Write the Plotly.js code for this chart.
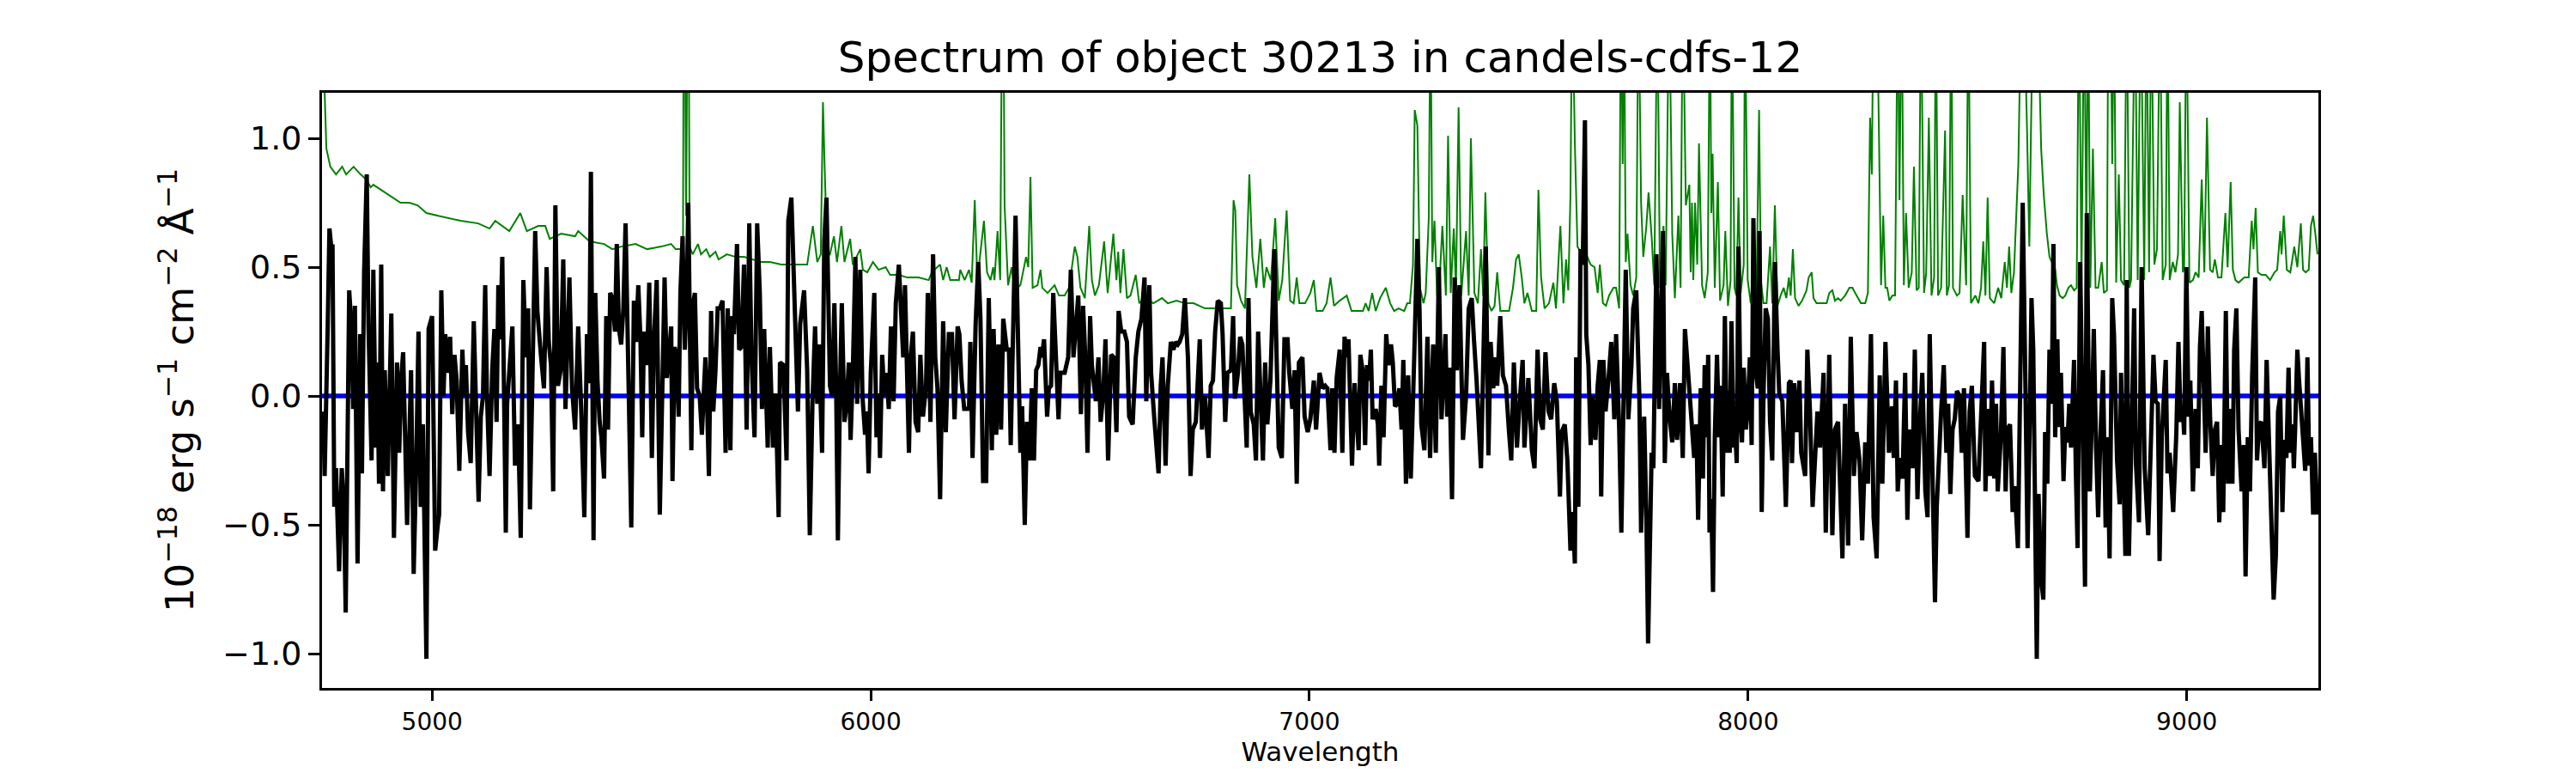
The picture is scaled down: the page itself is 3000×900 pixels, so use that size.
<!DOCTYPE html>
<html>
<head>
<meta charset="utf-8">
<script src="https://cdn.plot.ly/plotly-3.0.1.min.js"></script>
<style>html,body{margin:0;padding:0;background:#fff;}</style>
</head>
<body>
<div id="myDiv" style="width:3000px;height:900px;"></div>
<script>
// observed flux, [wavelength, flux]
var spectrum = [
[4752,-0.06],[4755,-0.31],[4762,0.27],[4766,0.65],[4770,0.58],[4773,0.58],[4777,-0.43],[4781,-0.28],[4788,-0.68],[4794,-0.28],[4799,-0.43],[4803,-0.84],[4811,0.41],[4816,0.27],[4820,-0.05],[4824,0.35],[4830,-0.65],[4836,0.24],[4840,-0.30],[4845,0.48],[4851,0.86],[4855,0.27],[4862,-0.25],[4866,0.49],[4872,-0.20],[4875,0.13],[4879,-0.34],[4884,0.51],[4888,-0.37],[4892,0.10],[4899,-0.31],[4907,0.32],[4913,-0.55],[4920,0.13],[4925,-0.22],[4930,0.08],[4934,0.17],[4938,-0.10],[4943,-0.50],[4952,0.10],[4958,-0.69],[4964,-0.25],[4969,0.25],[4974,-0.43],[4979,-0.11],[4987,-1.02],[4992,0.26],[5000,0.31],[5007,-0.60],[5013,-0.50],[5016,-0.46],[5021,0.41],[5026,0.00],[5030,0.24],[5036,0.09],[5041,0.23],[5046,-0.07],[5051,0.16],[5056,0.06],[5062,-0.29],[5069,0.18],[5073,0.00],[5077,0.12],[5082,-0.14],[5088,-0.26],[5095,0.29],[5101,-0.10],[5106,-0.41],[5111,-0.08],[5116,0.00],[5121,0.43],[5125,0.01],[5131,-0.31],[5137,0.10],[5142,0.26],[5147,-0.10],[5151,0.43],[5155,0.22],[5160,0.54],[5163,0.15],[5168,-0.53],[5171,-0.03],[5178,0.13],[5183,0.27],[5189,-0.27],[5196,-0.11],[5202,-0.55],[5208,0.45],[5214,0.15],[5219,0.34],[5223,-0.44],[5230,0.15],[5235,0.64],[5240,0.33],[5243,0.28],[5248,0.16],[5255,0.03],[5261,0.50],[5266,0.21],[5271,0.12],[5276,-0.37],[5281,0.74],[5287,0.04],[5293,0.10],[5299,0.53],[5304,-0.05],[5313,0.46],[5319,0.03],[5326,-0.13],[5333,0.27],[5340,-0.06],[5347,-0.47],[5353,0.24],[5358,0.05],[5362,0.87],[5368,-0.56],[5372,0.40],[5377,0.06],[5382,-0.10],[5386,-0.16],[5392,-0.32],[5397,0.31],[5401,-0.13],[5406,0.40],[5411,0.38],[5417,0.25],[5421,0.59],[5426,0.26],[5431,0.20],[5436,0.34],[5441,0.67],[5447,0.19],[5454,-0.51],[5460,0.37],[5465,0.21],[5470,0.43],[5475,0.22],[5479,-0.16],[5483,0.25],[5490,0.12],[5495,0.44],[5501,-0.24],[5506,0.23],[5512,0.45],[5519,-0.46],
[5530,0.46],[5535,0.07],[5540,0.16],[5545,0.27],[5548,-0.33],[5553,0.19],[5558,0.15],[5562,-0.08],[5566,0.40],[5571,0.62],[5576,0.18],[5581,0.42],[5584,0.75],[5591,-0.21],[5595,0.36],[5599,0.40],[5604,0.03],[5610,0.00],[5615,-0.15],[5620,0.00],[5623,0.15],[5626,0.03],[5631,-0.31],[5636,0.33],[5641,-0.06],[5646,0.10],[5651,0.34],[5656,0.34],[5662,0.37],[5669,-0.22],[5674,0.34],[5680,-0.21],[5684,0.31],[5688,0.24],[5695,0.59],[5700,0.18],[5705,0.19],[5711,0.51],[5717,-0.13],[5723,0.67],[5728,0.16],[5735,-0.16],[5741,0.67],[5747,0.40],[5752,-0.05],[5757,0.26],[5765,-0.20],[5770,0.19],[5777,-0.20],[5783,0.01],[5790,-0.47],[5793,0.13],[5801,0.12],[5808,-0.25],[5812,0.68],[5819,0.77],[5824,0.45],[5829,0.13],[5834,-0.06],[5839,0.28],[5843,0.33],[5848,0.41],[5855,0.10],[5861,-0.54],[5867,-0.03],[5873,0.27],[5878,-0.03],[5882,0.20],[5889,-0.22],[5894,0.60],[5899,0.77],[5904,0.30],[5907,0.04],[5912,0.00],[5917,0.36],[5921,0.04],[5925,-0.56],[5930,0.04],[5934,0.36],[5940,-0.10],[5945,-0.03],[5950,0.13],[5954,-0.17],[5959,0.09],[5965,0.54],[5969,-0.03],[5976,0.49],[5981,0.00],[5987,-0.15],[5991,-0.06],[5995,-0.30],[6000,0.09],[6008,0.40],[6013,-0.16],[6018,0.01],[6021,-0.24],[6026,0.16],[6031,0.00],[6036,0.09],[6041,-0.05],[6046,0.27],[6052,-0.02],[6057,0.36],[6064,0.51],[6069,0.28],[6074,0.15],[6078,0.43],[6082,0.15],[6087,-0.22],[6091,0.15],[6096,0.25],[6102,-0.10],[6108,-0.14],[6113,0.16],[6119,-0.08],[6126,0.04],[6130,0.40],[6136,-0.10],[6142,0.55],[6147,0.15],[6152,0.03],[6158,-0.40],[6165,0.29],[6171,-0.14],[6178,0.24],[6185,0.24],[6191,-0.09],[6198,0.27],[6202,0.24],[6207,0.06],[6213,-0.05],[6217,-0.05],[6224,-0.05],[6227,0.21],[6232,-0.24],[6239,0.28],[6245,0.52],[6250,0.30],[6256,-0.33],[6263,-0.33],[6269,0.38],[6276,-0.21],[6280,0.26],[6286,-0.15],[6291,0.20],[6297,-0.13],[6302,0.30],
[6310,0.18],[6315,0.18],[6319,-0.19],[6325,0.27],[6330,0.70],[6334,0.36],[6341,-0.22],[6345,-0.04],[6351,-0.50],[6356,-0.10],[6362,-0.25],[6367,0.03],[6372,-0.25],[6377,0.10],[6382,0.12],[6387,0.19],[6390,0.15],[6395,0.22],[6402,-0.08],[6406,0.03],[6411,0.04],[6416,0.40],[6421,0.15],[6428,-0.09],[6432,0.09],[6442,0.09],[6450,0.15],[6456,0.49],[6462,0.15],[6467,0.28],[6473,0.39],[6479,-0.07],[6484,0.35],[6489,0.15],[6494,-0.22],[6500,0.31],[6504,0.12],[6513,-0.02],[6519,0.15],[6524,-0.10],[6530,0.01],[6535,0.22],[6541,-0.25],[6548,0.16],[6554,0.15],[6560,-0.14],[6565,0.33],[6571,0.25],[6578,0.25],[6584,0.21],[6589,-0.08],[6597,-0.11],[6604,0.15],[6610,0.25],[6617,0.30],[6624,0.46],[6628,-0.02],[6635,0.43],[6639,0.09],[6646,-0.08],[6651,-0.19],[6656,-0.30],[6661,0.04],[6665,0.15],[6672,-0.27],[6677,0.04],[6684,0.21],[6690,0.18],[6695,0.21],[6700,0.20],[6704,0.21],[6710,0.24],[6716,0.38],[6723,0.15],[6729,-0.31],[6734,-0.13],[6741,-0.10],[6750,0.22],[6755,-0.13],[6762,0.00],[6770,-0.24],[6775,0.04],[6780,0.06],[6785,0.25],[6791,0.37],[6798,0.36],[6802,0.24],[6808,-0.10],[6813,0.09],[6821,0.10],[6826,0.31],[6830,-0.01],[6837,0.09],[6842,0.23],[6847,0.20],[6852,0.03],[6857,-0.20],[6861,0.38],[6866,-0.06],[6873,-0.11],[6878,-0.25],[6883,0.25],[6889,-0.03],[6894,-0.25],[6899,0.13],[6904,-0.11],[6911,0.06],[6915,0.25],[6920,0.57],[6925,0.16],[6930,-0.20],[6937,-0.24],[6943,0.22],[6950,0.22],[6954,0.09],[6961,-0.05],[6966,0.10],[6971,-0.34],[6976,0.13],[6984,0.15],[6989,-0.08],[6996,-0.14],[7002,-0.09],[7010,0.06],[7015,-0.13],[7023,0.09],[7030,0.03],[7036,0.04],[7041,0.03],[7048,-0.21],[7052,0.03],[7057,-0.22],[7062,0.07],[7069,0.18],[7075,-0.22],[7080,0.23],[7085,0.15],
[7089,0.22],[7097,-0.27],[7103,0.05],[7112,-0.21],[7116,0.16],[7122,0.09],[7127,-0.19],[7131,0.12],[7136,0.06],[7140,0.18],[7144,-0.09],[7151,-0.05],[7156,-0.11],[7159,-0.27],[7164,0.04],[7169,-0.16],[7175,0.24],[7180,0.12],[7186,0.20],[7190,0.13],[7195,-0.04],[7200,-0.03],[7205,0.03],[7210,-0.13],[7214,0.14],[7220,-0.34],[7225,0.08],[7231,-0.32],[7238,0.10],[7246,0.61],[7251,0.33],[7255,-0.11],[7262,-0.21],[7269,0.23],[7275,-0.24],[7282,0.20],[7288,-0.22],[7295,0.50],[7301,-0.09],[7310,0.24],[7314,-0.08],[7319,0.11],[7325,-0.40],[7331,0.46],[7336,0.10],[7342,0.43],[7350,-0.17],[7357,0.00],[7363,0.34],[7370,0.38],[7375,0.22],[7381,0.06],[7391,-0.28],[7396,0.22],[7402,0.58],[7408,-0.23],[7413,0.21],[7419,0.03],[7423,0.15],[7428,0.04],[7435,0.31],[7441,0.08],[7448,0.04],[7455,-0.14],[7460,-0.25],[7466,0.13],[7473,-0.20],[7479,-0.03],[7486,0.14],[7490,-0.20],[7499,0.07],[7507,-0.21],[7513,-0.28],[7520,0.18],[7526,-0.09],[7532,-0.13],[7538,0.17],[7545,-0.06],[7551,-0.09],[7558,0.05],[7564,-0.02],[7571,-0.39],[7575,-0.14],[7582,-0.11],[7588,-0.25],[7595,-0.60],[7600,-0.45],[7605,-0.65],[7608,0.15],[7613,-0.43],[7618,0.57],[7623,0.51],[7628,1.07],[7631,0.24],[7636,0.12],[7641,-0.19],[7645,0.00],[7652,-0.17],[7657,0.04],[7662,0.14],[7665,-0.39],[7670,0.14],[7675,-0.06],[7682,0.07],[7688,0.21],[7695,-0.09],[7699,0.24],[7706,-0.12],[7711,-0.53],[7721,0.49],[7727,-0.09],[7734,0.12],[7738,0.34],[7745,0.41],[7752,0.00],[7756,-0.53],[7763,-0.08],[7768,-0.47],[7772,-0.96],[7780,-0.22],[7784,-0.28],[7791,0.55],[7797,-0.05],[7806,0.64],[7810,-0.26],[7815,0.09],[7821,-0.08],[7827,-0.18],[7833,0.05],[7838,-0.17],[7845,0.05],[7851,-0.24],[7856,0.26],[7862,0.12],[7869,-0.08],
[7877,-0.24],[7882,-0.11],[7886,-0.48],[7892,0.03],[7897,-0.32],[7901,0.12],[7905,-0.16],[7909,0.16],[7912,-0.53],[7916,-0.40],[7920,-0.76],[7924,-0.16],[7929,0.16],[7934,-0.16],[7937,0.04],[7942,-0.39],[7947,0.31],[7952,-0.22],[7956,0.02],[7958,-0.22],[7962,0.29],[7967,-0.20],[7970,-0.11],[7974,-0.26],[7978,0.58],[7983,-0.10],[7986,-0.18],[7990,0.11],[7995,-0.13],[7999,-0.05],[8004,0.15],[8008,-0.19],[8012,0.69],[8017,0.10],[8022,0.03],[8026,0.64],[8031,-0.45],[8035,0.00],[8040,0.34],[8045,0.30],[8050,-0.10],[8055,-0.25],[8061,0.52],[8067,0.18],[8071,0.01],[8078,-0.02],[8086,-0.43],[8093,0.05],[8097,0.06],[8100,-0.26],[8105,0.05],[8110,-0.14],[8117,0.06],[8121,-0.22],[8130,-0.31],[8135,0.18],[8141,-0.06],[8147,-0.43],[8153,-0.24],[8158,-0.06],[8164,-0.20],[8172,0.09],[8177,-0.53],[8185,0.16],[8192,-0.54],[8198,-0.13],[8205,-0.10],[8215,-0.63],[8221,-0.03],[8228,-0.58],[8234,0.23],[8241,-0.31],[8247,-0.14],[8254,-0.25],[8260,-0.56],[8267,-0.18],[8273,-0.34],[8280,0.24],[8286,-0.47],[8293,-0.63],[8300,0.08],[8306,-0.34],[8313,0.21],[8321,-0.22],[8328,-0.04],[8332,-0.24],[8337,0.06],[8341,-0.37],[8346,-0.24],[8352,-0.32],[8358,0.09],[8363,-0.48],[8368,-0.13],[8375,-0.28],[8380,0.18],[8386,-0.40],[8391,-0.12],[8397,0.09],[8404,-0.37],[8409,-0.47],[8414,0.24],[8420,-0.34],[8426,-0.80],[8430,-0.43],[8435,-0.22],[8440,-0.06],[8446,0.12],[8452,-0.22],[8456,-0.03],[8461,-0.38],[8466,-0.13],[8471,-0.09],[8476,0.02],[8482,0.00],[8487,-0.22],[8492,0.03],[8500,-0.55],[8505,-0.06],[8510,0.04],[8517,-0.31],[8525,-0.33],[8533,0.01],[8538,0.21],[8541,-0.37],[8546,-0.05],[8551,-0.31],[8556,0.06],[8561,-0.32],[8565,-0.03],[8569,-0.37],[8576,-0.16],[8582,0.19],[8587,-0.37],[8591,-0.13],[8597,-0.11],[8603,-0.45],[8608,-0.35],[8615,-0.59],[8619,-0.03],[8626,0.75],[8632,0.06],[8637,-0.59],[8642,-0.10],[8646,0.38],[8650,0.18],
[8658,-1.02],[8662,-0.38],[8668,-0.71],[8673,-0.79],[8677,-0.14],[8682,-0.34],[8687,0.18],[8692,-0.03],[8696,0.59],[8700,-0.16],[8705,0.22],[8708,-0.12],[8713,0.09],[8719,-0.33],[8723,-0.12],[8728,-0.18],[8732,-0.03],[8736,-0.20],[8743,0.14],[8747,-0.29],[8751,-0.59],[8757,0.52],[8762,-0.11],[8768,-0.74],[8772,0.71],[8779,-0.37],[8784,-0.05],[8788,0.26],[8793,-0.19],[8798,-0.47],[8803,-0.16],[8809,0.10],[8815,-0.51],[8819,-0.16],[8824,-0.63],[8830,0.38],[8834,0.24],[8841,-0.25],[8847,-0.42],[8850,0.09],[8856,-0.32],[8860,-0.62],[8863,0.45],[8868,-0.62],[8873,-0.23],[8880,0.34],[8884,-0.26],[8891,-0.49],[8897,0.50],[8904,-0.28],[8912,-0.54],[8921,0.00],[8924,0.16],[8929,-0.02],[8934,-0.03],[8938,-0.64],[8943,-0.16],[8952,0.14],[8956,-0.30],[8961,-0.22],[8969,-0.45],[8976,-0.15],[8981,0.21],[8986,-0.10],[8991,-0.05],[8994,-0.15],[8999,0.50],[9004,-0.08],[9008,0.06],[9014,-0.37],[9020,-0.05],[9025,-0.28],[9030,0.19],[9034,0.33],[9038,0.13],[9043,-0.22],[9048,0.27],[9053,-0.08],[9059,-0.31],[9064,-0.13],[9069,-0.10],[9074,-0.49],[9079,-0.19],[9083,-0.45],[9089,0.33],[9094,-0.34],[9098,-0.05],[9104,-0.34],[9108,0.18],[9113,0.34],[9118,-0.13],[9125,-0.37],[9130,-0.19],[9134,-0.70],[9139,-0.16],[9144,-0.37],[9149,0.08],[9156,0.46],[9160,-0.25],[9165,-0.11],[9170,-0.10],[9177,-0.28],[9182,0.14],[9187,-0.19],[9191,-0.37],[9198,-0.79],[9203,-0.62],[9208,-0.06],[9213,0.00],[9218,-0.45],[9222,-0.17],[9227,-0.24],[9232,0.11],[9236,-0.22],[9241,-0.11],[9244,-0.28],[9247,-0.13],[9252,0.18],[9256,0.06],[9262,-0.10],[9266,-0.15],[9270,-0.29],[9275,0.15],[9279,-0.27],[9283,-0.16],[9288,-0.46],[9292,-0.22],[9298,-0.46]
];

// noise spectrum, [wavelength, sigma]
var noise = [
[4751,1.40],[4759,0.96],[4768,0.89],[4781,0.86],[4795,0.89],[4804,0.86],[4821,0.89],[4837,0.86],[4850,0.84],[4860,0.81],[4866,0.82],[4883,0.80],[4909,0.77],[4928,0.75],[4948,0.75],[4967,0.74],[4987,0.71],[5013,0.70],[5039,0.69],[5065,0.68],[5105,0.67],[5131,0.65],[5144,0.68],[5176,0.64],[5201,0.71],[5216,0.64],[5242,0.66],[5258,0.66],[5268,0.61],[5294,0.63],[5326,0.62],[5333,0.64],[5359,0.60],[5392,0.59],[5411,0.57],[5431,0.58],[5464,0.59],[5490,0.57],[5522,0.58],
[5545,0.59],[5555,0.57],[5568,0.57],[5572,0.60],[5574,2.00],[5579,0.70],[5584,2.00],[5587,0.58],[5594,0.55],[5606,0.59],[5613,0.55],[5625,0.57],[5633,0.54],[5646,0.56],[5653,0.53],[5672,0.55],[5692,0.54],[5711,0.54],[5731,0.53],[5750,0.52],[5770,0.52],[5796,0.51],[5816,0.51],[5835,0.51],[5855,0.51],[5868,0.66],[5878,0.52],[5886,0.55],[5891,1.14],[5895,0.88],[5901,0.54],[5907,0.55],[5916,0.62],[5923,0.52],[5933,0.66],[5940,0.52],[5953,0.61],[5959,0.51],[5976,0.57],[5982,0.49],[5992,0.48],[6005,0.52],[6018,0.49],[6034,0.50],[6044,0.47],[6064,0.47],[6083,0.46],[6109,0.46],[6132,0.45],[6139,0.48],[6158,0.51],[6165,0.45],[6173,0.50],[6181,0.45],[6201,0.45],[6204,0.49],[6214,0.45],[6224,0.49],[6230,0.44],[6237,0.76],[6243,0.45],[6258,0.68],[6265,0.48],[6273,0.45],[6279,0.50],[6282,0.45],[6289,0.64],[6295,0.45],[6301,2.00],
[6305,0.74],[6313,0.43],[6321,0.50],[6328,0.41],[6341,0.43],[6347,0.48],[6354,0.54],[6359,0.50],[6364,0.85],[6369,0.42],[6380,0.43],[6387,0.49],[6391,0.42],[6403,0.40],[6419,0.43],[6429,0.39],[6442,0.39],[6452,0.42],[6465,0.58],[6471,0.54],[6478,0.42],[6488,0.38],[6498,0.66],[6504,0.45],[6511,0.39],[6520,0.43],[6532,0.60],[6540,0.40],[6545,0.48],[6553,0.63],[6560,0.45],[6564,0.56],[6569,0.40],[6576,0.57],[6584,0.38],[6592,0.39],[6604,0.47],[6612,0.36],[6625,0.38],[6644,0.36],[6664,0.38],[6677,0.36],[6697,0.37],[6716,0.36],[6736,0.36],[6762,0.34],[6785,0.34],[6821,0.34],[6827,0.76],[6831,0.72],[6835,0.43],[6844,0.37],[6853,0.34],[6863,0.86],[6870,0.54],[6879,0.42],[6888,0.61],[6896,0.42],[6902,0.50],[6912,0.45],[6922,0.69],[6930,0.37],[6938,0.45],[6948,0.72],[6956,0.37],[6964,0.36],[6971,0.46],[6977,0.36],[6990,0.36],[7002,0.40],[7010,0.45],[7016,0.33],[7030,0.33],[7039,0.36],[7048,0.46],[7056,0.35],[7069,0.37],[7085,0.39],
[7096,0.33],[7109,0.33],[7122,0.33],[7128,0.36],[7135,0.33],[7143,0.40],[7151,0.33],[7161,0.38],[7174,0.42],[7184,0.36],[7193,0.33],[7203,0.34],[7216,0.33],[7223,0.36],[7229,0.36],[7236,0.51],[7240,1.11],[7246,1.05],[7252,0.42],[7260,0.36],[7265,0.40],[7272,0.69],[7276,1.60],[7280,0.52],[7285,0.68],[7291,0.39],[7298,0.49],[7303,0.66],[7311,0.39],[7316,1.01],[7322,0.40],[7329,0.65],[7334,0.42],[7340,1.12],[7346,0.39],[7350,0.48],[7357,0.64],[7363,0.39],[7368,1.00],[7376,0.40],[7384,0.36],[7391,0.57],[7396,0.39],[7401,0.79],[7408,0.36],[7415,0.33],[7422,0.35],[7428,0.48],[7435,0.33],[7445,0.33],[7455,0.33],[7464,0.42],[7471,0.53],[7477,0.55],[7484,0.46],[7490,0.36],[7497,0.40],[7507,0.33],[7517,0.33],[7522,0.80],[7528,0.46],[7536,0.34],[7546,0.36],[7556,0.44],[7562,0.34],[7572,0.66],[7579,0.36],[7585,0.53],[7590,0.41],[7595,0.78],[7599,1.60],[7605,0.98],[7611,0.58],[7621,0.55],[7631,0.55],[7641,0.51],[7650,0.50],[7657,0.40],[7662,0.51],[7669,0.36],[7676,0.35],[7683,0.39],[7693,0.42],[7699,0.42],[7706,0.34],[7710,1.60],[7714,0.90],[7717,1.60],[7721,0.52],[7725,0.63],[7732,0.43],[7738,0.39],[7745,0.46],[7750,1.60],[7756,0.75],[7761,0.54],[7768,0.66],[7773,0.79],[7780,0.62],[7786,0.43],[7793,1.60],[7799,0.42],[7807,0.66],[7812,0.43],[7820,1.60],[7827,0.63],[7833,0.38],[7841,0.70],[7846,0.42],[7851,1.60],[7858,0.74],[7866,0.82],[7869,0.48],
[7872,0.75],[7875,0.45],[7879,0.75],[7884,0.51],[7888,0.98],[7895,0.43],[7901,0.38],[7908,0.48],[7913,1.60],[7916,0.71],[7919,0.94],[7924,0.42],[7931,0.83],[7936,0.37],[7944,0.43],[7948,0.64],[7954,0.35],[7960,0.45],[7963,1.60],[7969,0.42],[7973,0.39],[7978,0.77],[7983,0.40],[7990,0.51],[7993,1.60],[7999,0.45],[8006,0.36],[8012,0.51],[8019,0.39],[8025,1.11],[8029,0.45],[8035,0.36],[8042,0.36],[8050,0.58],[8055,0.36],[8061,0.74],[8067,0.35],[8074,0.39],[8081,0.42],[8087,0.38],[8093,0.46],[8097,0.39],[8102,0.57],[8107,0.38],[8115,0.35],[8123,0.37],[8133,0.41],[8138,0.46],[8145,0.48],[8149,0.38],[8156,0.36],[8166,0.36],[8179,0.36],[8185,0.40],[8192,0.41],[8198,0.37],[8205,0.38],[8211,0.37],[8221,0.39],[8231,0.42],[8238,0.42],[8244,0.40],[8251,0.38],[8257,0.36],[8267,0.36],[8273,0.40],[8278,1.08],[8282,0.86],[8286,1.60],[8293,1.60],[8298,1.05],[8303,0.43],[8308,0.70],[8313,0.42],[8317,0.42],[8322,0.37],[8329,0.39],[8335,0.39],[8341,1.60],[8345,0.76],[8350,1.60],[8355,0.43],[8360,0.71],[8366,0.42],[8373,0.48],[8378,0.89],[8384,0.41],[8389,0.42],[8394,1.60],[8401,0.40],[8406,0.48],[8412,1.08],[8418,0.39],[8424,0.46],[8428,1.60],[8433,0.39],[8440,0.42],[8449,1.03],[8453,0.39],[8458,0.43],[8463,1.60],[8467,0.42],[8476,0.39],[8482,0.40],[8489,0.78],[8497,0.43],[8502,1.60],[8508,0.36],[8518,0.39],[8525,0.36],[8531,0.42],[8536,0.60],[8541,0.39],[8546,0.77],[8551,0.38],[8561,0.36],[8570,0.42],[8577,0.38],[8585,0.52],[8590,0.42],[8595,0.58],[8600,0.40],[8606,0.48],[8616,0.90],[8623,1.60],[8628,1.60],[8636,1.02],[8641,0.58],
[8648,1.40],[8655,1.60],[8662,1.40],[8668,0.96],[8674,0.78],[8681,0.63],[8687,0.54],[8694,0.51],[8700,0.49],[8704,0.43],[8710,0.39],[8717,0.38],[8723,0.39],[8730,0.42],[8736,0.43],[8743,0.41],[8749,0.42],[8754,1.60],[8760,0.45],[8766,1.60],[8771,0.60],[8775,1.60],[8780,0.42],[8786,0.96],[8792,0.42],[8798,0.42],[8806,0.52],[8811,0.40],[8818,0.41],[8821,1.60],[8826,1.60],[8830,0.90],[8834,1.60],[8839,0.44],[8845,0.86],[8850,0.45],[8857,0.43],[8863,1.60],[8869,0.42],[8873,0.45],[8882,1.60],[8888,0.45],[8895,1.60],[8903,0.45],[8908,1.60],[8914,0.48],[8919,1.60],[8926,0.51],[8932,0.57],[8939,1.60],[8945,0.45],[8952,0.51],[8956,1.60],[8961,0.45],[8968,0.52],[8974,0.48],[8980,0.55],[8984,1.14],[8991,0.48],[8994,0.50],[8999,1.60],[9006,0.44],[9014,0.45],[9020,0.48],[9027,0.46],[9034,0.84],[9040,0.48],[9046,1.08],[9053,0.49],[9059,0.48],[9064,0.53],[9071,0.46],[9079,0.46],[9088,0.71],[9093,0.50],[9100,0.83],[9105,0.49],[9111,0.45],[9118,0.44],[9131,0.46],[9141,0.46],[9148,0.68],[9152,0.57],[9157,0.73],[9162,0.48],[9170,0.47],[9180,0.47],[9190,0.45],[9200,0.48],[9206,0.49],[9213,0.64],[9216,0.55],[9221,0.70],[9228,0.49],[9236,0.48],[9245,0.58],[9252,0.50],[9260,0.67],[9265,0.49],[9271,0.48],[9278,0.49],[9283,0.66],[9288,0.70],[9293,0.63],[9298,0.55]
];

// continuum model (flat at zero)
var model = [[4749, 0.0], [9300, 0.0]];

var xTicks = [5000, 6000, 7000, 8000, 9000];
var yTicks = [-1.0, -0.5, 0.0, 0.5, 1.0];
var yTickText = ['\u22121.0', '\u22120.5', '0.0', '0.5', '1.0'];

var col = function (arr, i) { return arr.map(function (p) { return p[i]; }); };

var traceNoise = {
  x: col(noise, 0), y: col(noise, 1),
  type: 'scatter', mode: 'lines',
  line: {color: '#008000', width: 2},
  hoverinfo: 'skip'
};
var traceModel = {
  x: col(model, 0), y: col(model, 1),
  type: 'scatter', mode: 'lines',
  line: {color: '#0000ff', width: 5.5},
  hoverinfo: 'skip'
};
var traceFlux = {
  x: col(spectrum, 0), y: col(spectrum, 1),
  type: 'scatter', mode: 'lines',
  line: {color: '#000000', width: 5},
  hoverinfo: 'skip'
};

var data = [traceNoise, traceModel, traceFlux];

var layout = {
  width: 3000,
  height: 900,
  autosize: false,
  showlegend: false,
  paper_bgcolor: '#ffffff',
  plot_bgcolor: '#ffffff',
  font: {family: 'DejaVu Sans', color: '#000000'},
  margin: {l: 375, r: 300, t: 108, b: 99, pad: 0},
  title: {
    text: 'Spectrum of object 30213 in candels-cdfs-12',
    font: {size: 50},
    xref: 'paper', x: 0.5, xanchor: 'center',
    yref: 'container', y: 1 - 66 / 900, yanchor: 'middle'
  },
  xaxis: {
    range: [4749, 9300],
    tickvals: xTicks,
    ticktext: xTicks.map(String),
    ticks: 'outside', ticklen: 12, tickwidth: 3, tickcolor: '#000',
    showline: true, linewidth: 3, linecolor: '#000', mirror: true,
    showgrid: false, zeroline: false,
    tickfont: {size: 28},
    title: {text: 'Wavelength', font: {size: 31}, standoff: 6},
    automargin: false
  },
  yaxis: {
    range: [-1.133, 1.177],
    tickvals: yTicks,
    ticktext: yTickText,
    ticks: 'outside', ticklen: 13, tickwidth: 3, tickcolor: '#000',
    showline: true, linewidth: 3, linecolor: '#000', mirror: true,
    showgrid: false, zeroline: false,
    tickfont: {size: 38},
    title: {
      text: '10<sup>\u221218</sup> erg s<sup>\u22121</sup> cm<sup>\u22122</sup> \u00c5<sup>\u22121</sup>',
      font: {size: 45}, standoff: 20
    },
    automargin: false
  }
};

Plotly.newPlot('myDiv', data, layout, {staticPlot: true, displayModeBar: false});
</script>
</body>
</html>
